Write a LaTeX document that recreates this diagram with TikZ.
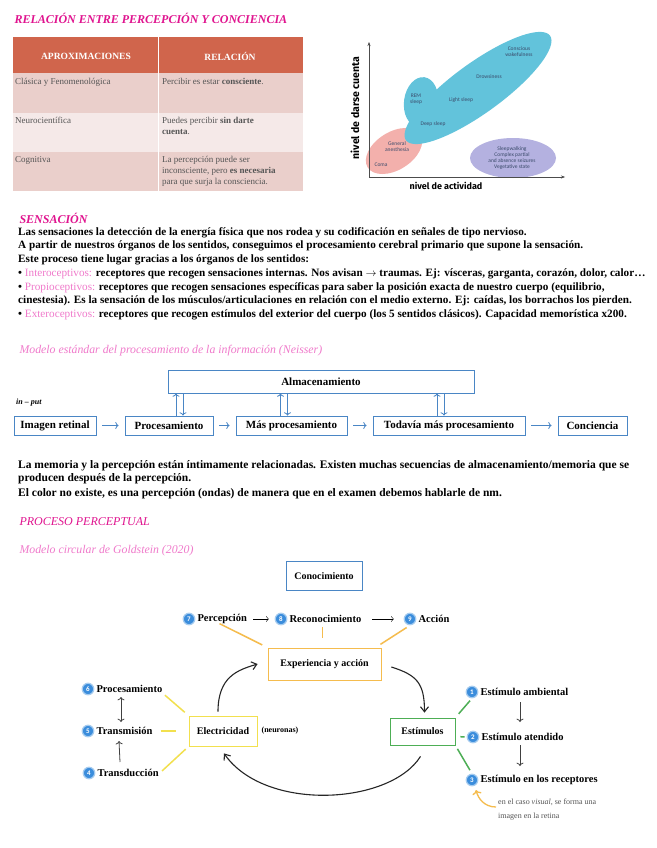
\documentclass[tikz,border=0pt]{standalone}
\usepackage{fontspec}
\setmainfont{Liberation Serif}
\setsansfont{Carlito}
\newfontfamily\handfont{Fira Sans}
\usetikzlibrary{arrows.meta,positioning,calc}
\definecolor{magentatitle}{HTML}{E0148F}
\definecolor{magentalight}{HTML}{F07ACB}
\definecolor{headred}{HTML}{D0654C}
\definecolor{rowdark}{HTML}{EACFCB}
\definecolor{rowlight}{HTML}{F5E9E8}
\definecolor{boxblue}{HTML}{4A86C5}
\definecolor{sleepblue}{HTML}{62C3DB}
\definecolor{sleeppink}{HTML}{F3B0AC}
\definecolor{sleeppurple}{HTML}{B4B1E0}
\definecolor{numblue}{HTML}{3B8DDC}
\definecolor{lineorange}{HTML}{F5BC4E}
\definecolor{lineyellow}{HTML}{F2E04E}
\definecolor{linegreen}{HTML}{4DAE55}
\definecolor{graytext}{HTML}{555555}
\definecolor{graphtext}{HTML}{3A4A6A}

\begin{document}
\begin{tikzpicture}[x=1pt, y=-1pt,
  ttl/.style={anchor=west, text=magentatitle, font=\bfseries\itshape\fontsize{12}{13}\selectfont},
  subttl/.style={anchor=west, text=magentalight, font=\itshape\fontsize{11.8}{12}\selectfont},
  body/.style={anchor=west, inner sep=0pt, font=\bfseries\fontsize{11.2}{12}\selectfont},
  para/.style={anchor=west, inner sep=0pt, font=\bfseries\fontsize{11.5}{12}\selectfont},
  headtxt/.style={text=white, font=\bfseries\fontsize{9.5}{10}\selectfont},
  cell/.style={anchor=north west, inner sep=0pt, text=graytext, align=left, font=\fontsize{9}{11}\selectfont},
  gtxt/.style={text=graphtext, align=center, font=\sffamily\fontsize{5.5}{6}\selectfont},
  axtxt/.style={font=\handfont\bfseries\fontsize{9}{10}\selectfont},
  flowbox/.style={draw=boxblue, thick, minimum height=19pt, inner xsep=3pt, font=\bfseries\fontsize{11}{12}\selectfont},
  flowarr/.style={->, boxblue, thick, shorten <=6pt, shorten >=6pt},
  vlink/.style={->, boxblue, thick},
  cyclebox/.style={thick, minimum height=30pt, inner xsep=6pt, font=\bfseries\fontsize{10}{12}\selectfont},
  numc/.style={circle, fill=numblue, draw=numblue!45, line width=1.2pt, inner sep=0pt, minimum size=11.5pt, text=white, font=\sffamily\bfseries\fontsize{7}{7}\selectfont},
  step lbl/.style={right=1pt, inner sep=1pt, font=\bfseries\fontsize{10.5}{12}\selectfont},
  oline/.style={lineorange, line width=1.5pt},
  yline/.style={lineyellow, line width=1.5pt},
  gline/.style={linegreen, line width=1.5pt},
  cycarr/.style={-{Straight Barb[length=5pt,width=8pt]}, line width=1.1pt, black!85}]

  \useasboundingbox[fill=white] (0,0) rectangle (656,848);

  % Title
  \node[ttl] (reltitle) at (11,18) {RELACIÓN ENTRE PERCEPCIÓN Y CONCIENCIA};

  % Table
  \fill[headred] (13,37) rectangle (303,73);
  \fill[rowdark] (13,73) rectangle (303,113);
  \fill[rowlight] (13,113) rectangle (303,152);
  \fill[rowdark] (13,152) rectangle (303,191);
  \draw[white, line width=0.8pt] (158,37) -- (158,191);
  \node[headtxt] (headA) at (86,56) {APROXIMACIONES};
  \node[headtxt] (headR) at (230,56) {RELACIÓN};
  \node[cell] (rowA1) at (15,78) {Clásica y Fenomenológica};
  \node[cell] (rowR1) at (162,78) {Percibir es estar \textbf{consciente}.};
  \node[cell] (rowA2) at (15,117) {Neurocientífica};
  \node[cell] (rowR2) at (162,117) {Puedes percibir \textbf{sin darte}\\\textbf{cuenta}.};
  \node[cell] (rowA3) at (15,156) {Cognitiva};
  \node[cell] (rowR3) at (162,156) {La percepción puede ser\\inconsciente, pero \textbf{es necesaria}\\para que surja la consciencia.};

  % Graph of awareness
  \fill[sleeppink, rotate around={32:(394,151)}] (394,151) ellipse (31 and 19);
  \fill[sleepblue, rotate around={-8:(421,102)}] (421,102) ellipse (17 and 25);
  \fill[sleepblue, rotate around={36:(478,88)}] (478,88) ellipse (89 and 25);
  \fill[sleeppurple] (513,158) ellipse (43 and 20);
  \draw[-{Stealth[length=4pt,width=3pt]}, black!70] (369,177) -- (369,42);
  \draw[-{Stealth[length=4pt,width=3pt]}, black!70] (369,177) -- (565,177);
  \node[axtxt, rotate=90, font=\handfont\bfseries\fontsize{10.5}{11}\selectfont] (yaxis) at (355,108) {nivel de darse cuenta};
  \node[axtxt] (xaxis) at (446,186) {nivel de actividad};
  \node[gtxt] (wake) at (519,52) {Conscious\\wakefulness};
  \node[gtxt] (drowsy) at (489,77) {Drowsiness};
  \node[gtxt] (rem) at (416,99) {REM\\sleep};
  \node[gtxt] (light) at (461,100) {Light sleep};
  \node[gtxt] (deep) at (433,124) {Deep sleep};
  \node[gtxt] (anest) at (397,147) {General\\anesthesia};
  \node[gtxt] (coma) at (381,165) {Coma};
  \node[gtxt] (walk) at (512,158) {Sleepwalking\\Complex partial\\and absence seizures\\Vegetative state};

  % Sensacion
  \node[ttl] (senstitle) at (16,218) {SENSACIÓN};
  \node[body] (s1) at (18,233) {Las sensaciones la detección de la energía física que nos rodea y su codificación en señales de tipo nervioso.};
  \node[body] (s2) at (18,246) {A partir de nuestros órganos de los sentidos, conseguimos el procesamiento cerebral primario que supone la sensación.};
  \node[body] (s3) at (18,260) {Este proceso tiene lugar gracias a los órganos de los sentidos:};
  \node[body] (s4) at (18,274) {• \textcolor{magentalight}{\mdseries Interoceptivos:} receptores que recogen sensaciones internas. Nos avisan $\rightarrow$ traumas. Ej: vísceras, garganta, corazón, dolor, calor…};
  \node[body] (s5) at (18,288) {• \textcolor{magentalight}{\mdseries Propioceptivos:} receptores que recogen sensaciones específicas para saber la posición exacta de nuestro cuerpo (equilibrio,};
  \node[body] (s6) at (18,301) {cinestesia). Es la sensación de los músculos/articulaciones en relación con el medio externo. Ej: caídas, los borrachos los pierden.};
  \node[body] (s7) at (18,315) {• \textcolor{magentalight}{\mdseries Exteroceptivos:} receptores que recogen estímulos del exterior del cuerpo (los 5 sentidos clásicos). Capacidad memorística x200.};

  % Standard model
  \node[subttl] (stdtitle) at (16,351) {Modelo estándar del procesamiento de la información (Neisser)};
  \node[flowbox, minimum width=306pt, minimum height=23pt] (store) at (321,381.5) {Almacenamiento};
  \node[anchor=west, inner sep=0pt, font=\bfseries\itshape\fontsize{8}{9}\selectfont] (input) at (16,403) {in – put};
  \node[flowbox, minimum width=82pt] (retina) at (55,425.5) {Imagen retinal};
  \node[flowbox, minimum width=88pt] (proc) at (169,425.5) {Procesamiento};
  \node[flowbox, minimum width=111pt] (moreproc) at (291.5,425.5) {Más procesamiento};
  \node[flowbox, minimum width=152pt] (stillproc) at (449,425.5) {Todavía más procesamiento};
  \node[flowbox, minimum width=69pt] (consc) at (592.5,425.5) {Conciencia};
  \draw[flowarr] (retina) -- (proc);
  \draw[flowarr] (proc) -- (moreproc);
  \draw[flowarr] (moreproc) -- (stillproc);
  \draw[flowarr] (stillproc) -- (consc);
  \draw[vlink] ([xshift=7pt]proc.north) -- ([xshift=7pt]proc.north |- store.south);
  \draw[vlink] ([xshift=14pt]proc.north |- store.south) -- ([xshift=14pt]proc.north);
  \draw[vlink] ([xshift=-11pt]moreproc.north) -- ([xshift=-11pt]moreproc.north |- store.south);
  \draw[vlink] ([xshift=-4pt]moreproc.north |- store.south) -- ([xshift=-4pt]moreproc.north);
  \draw[vlink] ([xshift=-12pt]stillproc.north) -- ([xshift=-12pt]stillproc.north |- store.south);
  \draw[vlink] ([xshift=-5pt]stillproc.north |- store.south) -- ([xshift=-5pt]stillproc.north);

  % Memory paragraph
  \node[para] (m1) at (18,466) {La memoria y la percepción están íntimamente relacionadas. Existen muchas secuencias de almacenamiento/memoria que se};
  \node[para] (m2) at (18,479) {producen después de la percepción.};
  \node[para] (m3) at (18,494) {El color no existe, es una percepción (ondas) de manera que en el examen debemos hablarle de nm.};

  % Perceptual process
  \node[ttl, font=\itshape\fontsize{12}{13}\selectfont] (proctitle) at (16,522) {PROCESO PERCEPTUAL};
  \node[subttl] (circtitle) at (16,551) {Modelo circular de Goldstein (2020)};

  % Circular model boxes
  \node[cyclebox, draw=boxblue, minimum width=76pt, minimum height=29pt] (know) at (324,576) {Conocimiento};
  \node[cyclebox, draw=lineorange, minimum width=113pt, minimum height=32pt] (exper) at (324.5,664) {Experiencia y acción};
  \node[cyclebox, draw=lineyellow, minimum width=68pt] (elec) at (223,731) {Electricidad};
  \node[right=4pt of elec, inner sep=0pt, font=\bfseries\fontsize{8}{9}\selectfont] (neur) {(neuronas)};
  \node[cyclebox, draw=linegreen, minimum width=65pt, minimum height=27pt] (estim) at (422.5,731.5) {Estímulos};

  % Steps 7-9
  \node[numc] (n7) at (189,619) {7};
  \node[step lbl] (perc) at (n7.east) {Percepción};
  \node[numc] (n8) at (281,619) {8};
  \node[step lbl] (recog) at (n8.east) {Reconocimiento};
  \node[numc] (n9) at (410,619) {9};
  \node[step lbl] (action) at (n9.east) {Acción};
  \draw[->, shorten <=5pt, shorten >=6pt] (perc) -- (n8);
  \draw[->, shorten <=10pt, shorten >=10pt] (recog) -- (n9);
  \draw[oline, shorten <=-3pt, shorten >=6pt] (perc.south) -- (exper.north west);
  \draw[oline, shorten <=3pt, shorten >=10pt] ([xshift=-3pt]recog.south) -- ([xshift=-3pt]recog.south |- exper.north);
  \draw[oline, shorten <=4pt, shorten >=6pt] (n9.south) -- ([xshift=-6pt]exper.north east);

  % Steps 4-6
  \node[numc] (n6) at (88,689) {6};
  \node[step lbl] (procst) at (n6.east) {Procesamiento};
  \node[numc] (n5) at (88,731) {5};
  \node[step lbl] (transm) at (n5.east) {Transmisión};
  \node[numc] (n4) at (89,773) {4};
  \node[step lbl] (transd) at (n4.east) {Transducción};
  \draw[<->, thick, black!75] ($(n6)+(33,8)$) -- ($(n5)+(33,-9)$);
  \draw[->, thick, black!75] ($(n4)+(31,-11)$) -- ($(n5)+(31,10)$);
  \draw[yline, shorten <=2pt, shorten >=5pt] (procst.south east) -- (elec.north west);
  \draw[yline, shorten <=7pt, shorten >=13pt] (transm.east) -- (elec.west);
  \draw[yline, shorten <=3pt, shorten >=4pt] (transd.east) -- (elec.south west);

  % Steps 1-3
  \node[numc] (n1) at (472,692) {1};
  \node[step lbl] (ambient) at (n1.east) {Estímulo ambiental};
  \node[numc] (n2) at (473,737) {2};
  \node[step lbl] (attend) at (n2.east) {Estímulo atendido};
  \node[numc] (n3) at (472,780) {3};
  \node[step lbl] (recept) at (n3.east) {Estímulo en los receptores};
  \draw[->, thick, black!75] ($(n1)+(48,10)$) -- ($(n2)+(47,-15)$);
  \draw[->, thick, black!75] ($(n2)+(47,8)$) -- ($(n3)+(48,-14)$);
  \draw[gline, shorten <=5pt, shorten >=3pt] (estim.north east) -- (n1.south);
  \draw[gline, shorten <=5pt, shorten >=2pt] ([yshift=-5pt]estim.east) -- (n2.west);
  \draw[gline, shorten <=4pt, shorten >=4pt] (estim.south east) -- (n3.north);

  % Note on the retina
  \node[anchor=north west, align=left, inner sep=0pt, text=graytext, font=\fontsize{8}{14}\selectfont] (note) at (498,799) {en el caso \textit{visual}, se forma una\\imagen en la retina};
  \draw[->, lineorange, line width=1.3pt] ($(note.north west)+(-2,8)$) .. controls +(-12,0) and +(2,8) .. ($(n3)+(4,10)$);

  % Cycle arrows
  \draw[cycarr] ($(elec.north)+(-5,-4)$) .. controls +(0,-35) and +(-20,6) .. ($(exper.west)+(-10,0)$);
  \draw[cycarr] ($(exper.east)+(10,3)$) .. controls +(25,8) and +(0,-30) .. ($(estim.north)+(2,-5)$);
  \draw[cycarr] ($(estim.south)+(-2,11)$) .. controls (390,805) and (265,812) .. ($(elec.south)+(1,7)$);
\end{tikzpicture}
\end{document}
